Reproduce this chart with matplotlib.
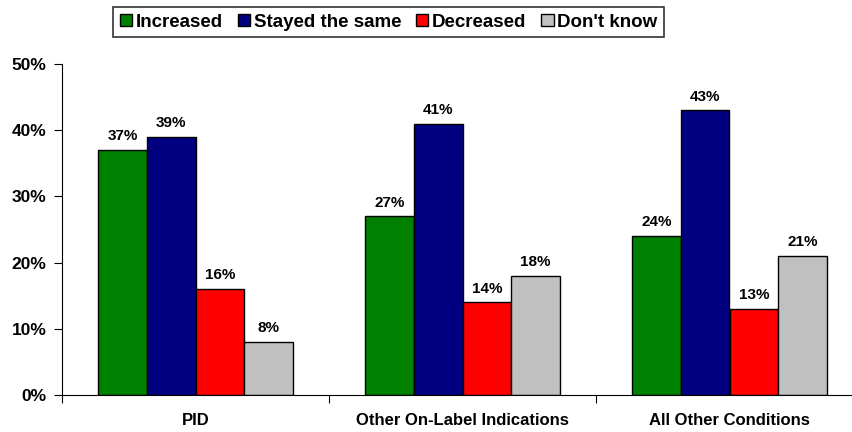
import numpy as np
import matplotlib
matplotlib.use("Agg")
from matplotlib import pyplot as plt

plt.rcParams['font.family'] = ['Liberation Sans', 'DejaVu Sans']
plt.rcParams['font.weight'] = 'bold'

categories = ["PID", "Other On-Label Indications", "All Other Conditions"]
series_names = ["Increased", "Stayed the same", "Decreased", "Don't know"]
increased = [37, 27, 24]
stayed = [39, 41, 43]
decreased = [16, 14, 13]
dont_know = [8, 18, 21]
colors = ["#008000", "#000080", "#FF0000", "#C0C0C0"]

fig = plt.figure(figsize=(8.53, 4.32), dpi=100)
ax = fig.add_axes([62/853, 1-395/432, 801/853, 331/432])

x = np.arange(len(categories))
w = 0.182
vals = [increased, stayed, decreased, dont_know]
for i, (name, v, c) in enumerate(zip(series_names, vals, colors)):
    pos = x + (i - 1.5) * w
    ax.bar(pos, v, w, color=c, edgecolor="black", linewidth=1, label=name)
    for p, val in zip(pos, v):
        ax.text(p, val + 1.0, f"{val}%", ha="center", va="bottom",
                fontsize=11, fontweight="bold")

ax.set_xlim(-0.5, 2.5)
ax.set_ylim(0, 50)
ax.set_yticks(range(0, 51, 10))
ax.set_yticklabels([f"{t}%" for t in range(0, 51, 10)], fontsize=12.5, fontweight="bold")
ax.set_xticks([-0.5, 0.5, 1.5, 2.5])
ax.set_xticklabels([])
ax.set_xticks(x, minor=True)
ax.set_xticklabels(categories, minor=True, fontsize=12, fontweight="bold")
ax.tick_params(axis="x", which="minor", length=0, pad=13)
ax.tick_params(axis="x", which="major", length=6, direction="out")
ax.tick_params(axis="y", length=6, direction="out", pad=5)
ax.spines["top"].set_visible(False)
ax.spines["right"].set_visible(False)

leg = fig.legend(loc="upper left", bbox_to_anchor=(113/853, 1-7/432), ncol=4,
                 frameon=True, fancybox=False, edgecolor="black",
                 prop={"size": 13.5, "weight": "bold"},
                 handlelength=0.65, handleheight=0.65, handletextpad=0.2,
                 columnspacing=0.8, borderpad=0.35, borderaxespad=0)
leg.get_frame().set_linewidth(1.2)

fig.savefig("out.png", dpi=100)
